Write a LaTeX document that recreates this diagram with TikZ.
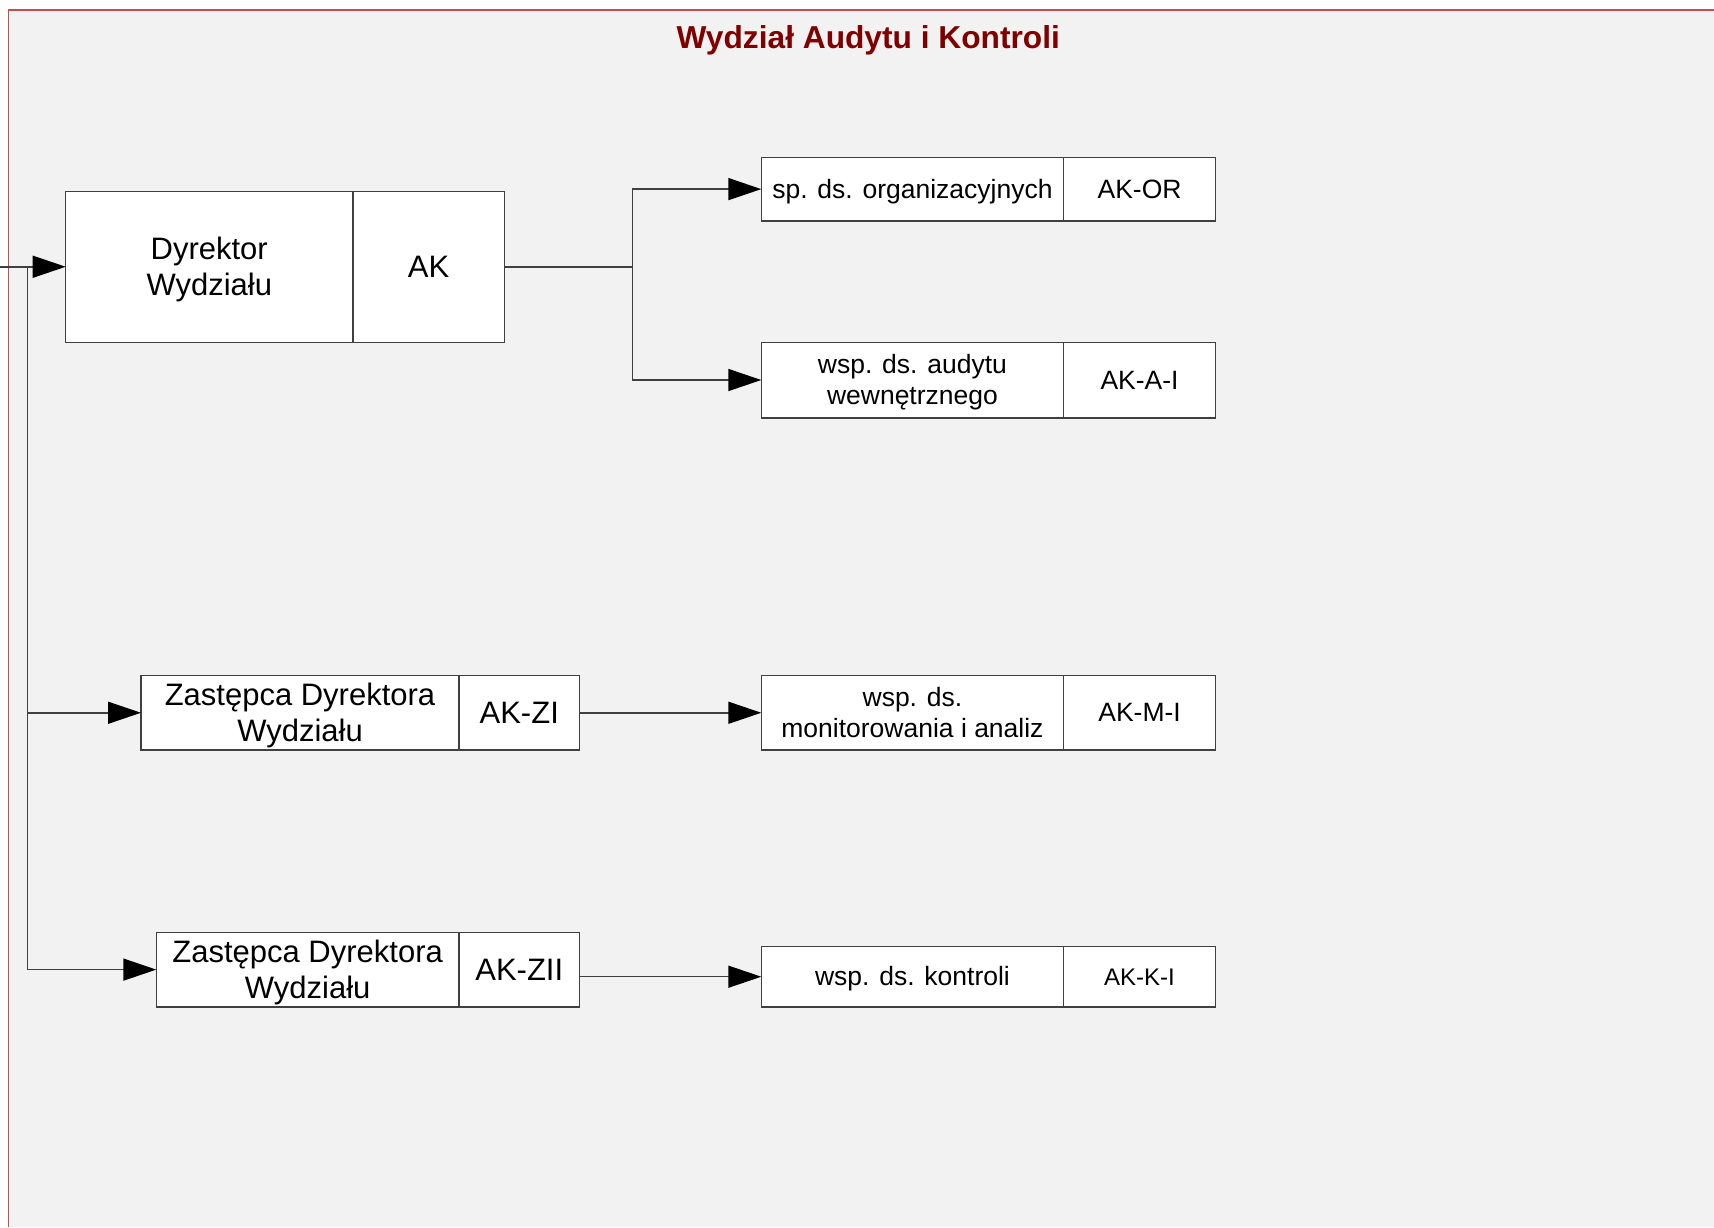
\documentclass[tikz,border=0pt]{standalone}
\usepackage{fontspec}
\setmainfont{Liberation Sans}
\usetikzlibrary{arrows.meta}
\definecolor{bggray}{HTML}{F2F2F2}
\definecolor{framered}{HTML}{C0504D}
\definecolor{titlered}{HTML}{800000}
\definecolor{boxgray}{HTML}{404040}
\definecolor{linegray}{HTML}{404040}
\newcommand\ostrut{\rule[-0.212em]{0pt}{1.117em}}
\tikzset{
  unitbox/.style={draw=boxgray, fill=white, line width=1.4pt, inner sep=0pt, outer sep=0pt, align=center, anchor=north west},
  bigtxt/.style={font=\fontsize{31}{36}\selectfont},
  smalltxt/.style={font=\fontsize{26.5}{30.5}\selectfont},
  conn/.style={draw=linegray, line width=1.5pt},
  arr/.style={conn, -{Triangle[length=33pt,width=22pt,color=black]}},
}
\begin{document}
\begin{tikzpicture}[x=1pt,y=-1pt]
\useasboundingbox (0,0) rectangle (1714,1227);
\fill[white] (0,0) rectangle (1714,1227);
\fill[bggray] (8.5,10) rectangle (1714,1227);
\draw[framered, line width=1.2pt] (8.5,1227) -- (8.5,10) -- (1714,10);

\node[anchor=base, text=titlered, font=\fontsize{31.7}{36}\selectfont\bfseries] (title) at (868.3,48.5) {Wydział Audytu i Kontroli};

% Dyrektor
\node[unitbox, bigtxt, minimum width=287.1pt, minimum height=150.9pt] (dyr) at (65.7,191.3) {\ostrut Dyrektor\\\ostrut Wydziału};
\node[unitbox, bigtxt, minimum width=151.4pt, minimum height=150.9pt] (dyrc) at (352.8,191.3) {\ostrut AK};

% Zastepca I
\node[unitbox, bigtxt, minimum width=318pt, minimum height=74.5pt] (zi) at (141,675.5) {\ostrut Zastępca Dyrektora\\\ostrut Wydziału};
\node[unitbox, bigtxt, minimum width=120.5pt, minimum height=74.5pt] (zic) at (459,675.5) {\ostrut AK-ZI};

% Zastepca II
\node[unitbox, bigtxt, minimum width=302.7pt, minimum height=74.4pt] (zii) at (156.3,932.4) {\ostrut Zastępca Dyrektora\\\ostrut Wydziału};
\node[unitbox, bigtxt, minimum width=120.5pt, minimum height=74.4pt] (ziic) at (459,932.4) {\ostrut AK-ZII};

% right column
\node[unitbox, smalltxt, minimum width=302.3pt, minimum height=63.4pt] (aor) at (761.3,157.4) {\ostrut sp. ds. organizacyjnych};
\node[unitbox, smalltxt, minimum width=151.9pt, minimum height=63.4pt] (aorc) at (1063.6,157.4) {\ostrut AK-OR};

\node[unitbox, smalltxt, minimum width=302.3pt, minimum height=75.6pt] (aai) at (761.3,342.2) {\ostrut wsp. ds. audytu\\\ostrut wewnętrznego};
\node[unitbox, smalltxt, minimum width=151.9pt, minimum height=75.6pt] (aaic) at (1063.6,342.2) {\ostrut AK-A-I};

\node[unitbox, smalltxt, minimum width=302.3pt, minimum height=74.5pt] (ami) at (761.3,675.5) {\ostrut wsp. ds.\\\ostrut monitorowania i analiz};
\node[unitbox, smalltxt, minimum width=151.9pt, minimum height=74.5pt] (amic) at (1063.6,675.5) {\ostrut AK-M-I};

\node[unitbox, smalltxt, minimum width=302.3pt, minimum height=60.2pt] (kki) at (761.3,946.6) {\ostrut wsp. ds. kontroli};
\node[unitbox, font=\fontsize{24}{28}\selectfont, minimum width=151.9pt, minimum height=60.2pt] (kkic) at (1063.6,946.6) {\ostrut AK-K-I};

% connectors
\coordinate (in) at (0,266.75);
\coordinate (trunk) at (27.7,266.75);
\coordinate (split) at (632.7,266.75);

\draw[arr] (in) -- (dyr.west);
\draw[arr] (trunk) |- (zi.west);
\draw[arr] (trunk) |- (zii.west);

\draw[conn] (dyrc.east) -- (split);
\draw[arr] (split) |- (aor.west);
\draw[arr] (split) |- (aai.west);

\draw[arr] (zic.east) -- (ami.west);
\draw[arr] (ziic.east |- kki.west) -- (kki.west);
\end{tikzpicture}
\end{document}
